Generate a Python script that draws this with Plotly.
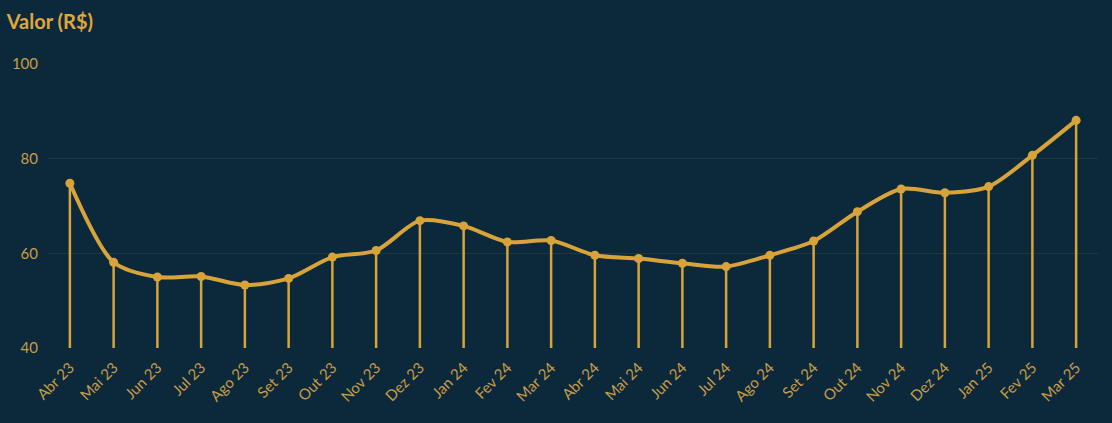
import plotly.graph_objects as go

# monthly values
months = ["Abr 23", "Mai 23", "Jun 23", "Jul 23", "Ago 23", "Set 23", "Out 23", "Nov 23",
          "Dez 23", "Jan 24", "Fev 24", "Mar 24", "Abr 24", "Mai 24", "Jun 24", "Jul 24",
          "Ago 24", "Set 24", "Out 24", "Nov 24", "Dez 24", "Jan 25", "Fev 25", "Mar 25"]
values = [74.8, 58.1, 55.0, 55.1, 53.3, 54.7, 59.2, 60.6,
          66.9, 65.8, 62.4, 62.7, 59.6, 58.9, 57.9, 57.2,
          59.6, 62.6, 68.8, 73.6, 72.8, 74.1, 80.7, 88.1]
y_ticks = [40, 60, 80, 100]
y_min = 40

BG = "#0c293c"
GOLD = "#d8a43a"
TICK_GOLD = "#c99c45"
GRID = "#1f383d"
FONT = "Lato"

fig = go.Figure()

# vertical stems down to the baseline (drawn as one-sided error bars)
fig.add_trace(go.Scatter(
    x=months, y=values,
    mode="markers",
    marker=dict(size=1, color="rgba(0,0,0,0)"),
    error_y=dict(type="data", symmetric=False,
                 array=[0] * len(values),
                 arrayminus=[v - y_min for v in values],
                 color=GOLD, thickness=2.5, width=0),
    hoverinfo="skip",
    showlegend=False,
))

# smoothed line with points
fig.add_trace(go.Scatter(
    x=months, y=values,
    mode="lines+markers",
    line=dict(color=GOLD, width=4, shape="spline", smoothing=0.8),
    marker=dict(color=GOLD, size=9),
    showlegend=False,
))

fig.update_layout(
    width=1112, height=423,
    paper_bgcolor=BG, plot_bgcolor=BG,
    margin=dict(l=48, r=14, t=64, b=75),
    font=dict(family=FONT, color=TICK_GOLD),
    title=dict(text="<b>Valor (R$)</b>", font=dict(family=FONT, size=20, color="#e0a73c"),
               xref="container", yref="container", x=0.006, xanchor="left",
               y=0.948, yanchor="middle"),
    xaxis=dict(type="category", range=[-0.5, len(months) - 0.5], automargin=False,
               tickangle=-45, tickfont=dict(size=15, color=TICK_GOLD),
               showgrid=False, zeroline=False, showline=False,
               ticks="outside", ticklen=4, tickcolor=BG),
    yaxis=dict(range=[y_min, 100], tickvals=y_ticks, tickfont=dict(size=15, color=TICK_GOLD),
               automargin=False,
               showgrid=True, gridcolor=GRID, gridwidth=1, zeroline=False,
               showline=False, ticks="outside", ticklen=6, tickcolor=BG),
)

fig.write_html("out.html", config={"displayModeBar": False},
               post_script="document.body.style.margin='0';")
